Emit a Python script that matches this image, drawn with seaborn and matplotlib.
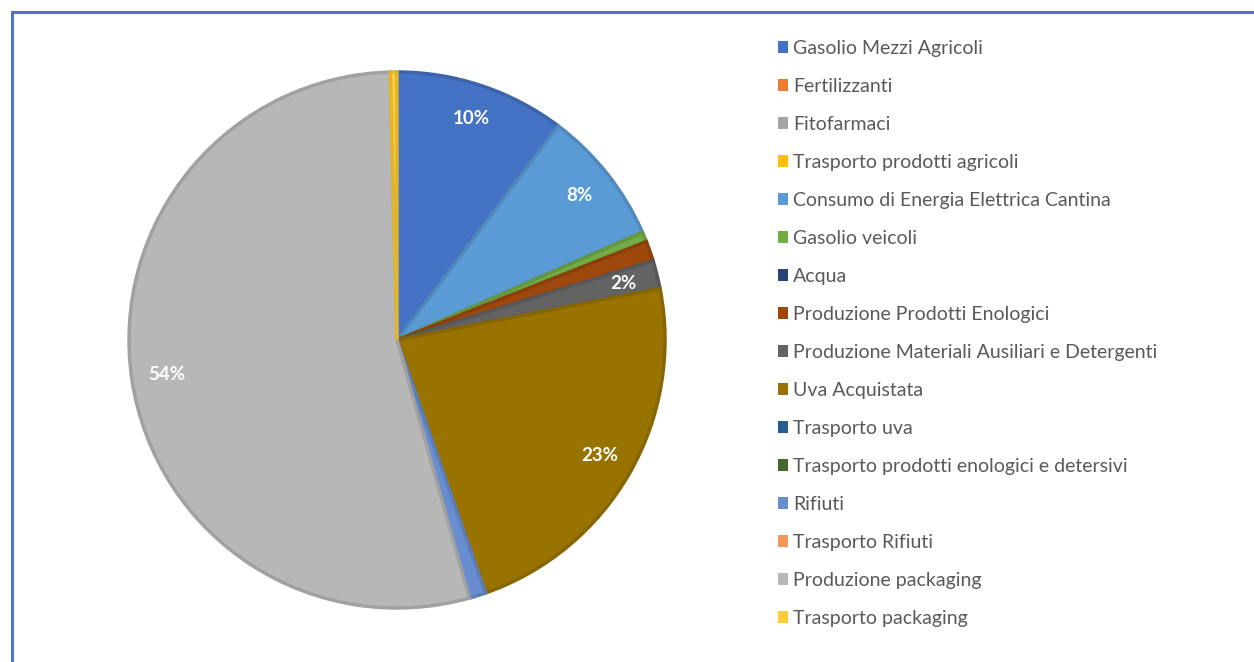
import numpy as np
import seaborn as sns
import matplotlib.pyplot as plt
import matplotlib.colors as mcolors
from matplotlib.patches import Patch, Rectangle

# Data: share of emissions by source (percent)
categories = [
    "Gasolio Mezzi Agricoli",
    "Fertilizzanti",
    "Fitofarmaci",
    "Trasporto prodotti agricoli",
    "Consumo di Energia Elettrica Cantina",
    "Gasolio veicoli",
    "Acqua",
    "Produzione Prodotti Enologici",
    "Produzione Materiali Ausiliari e Detergenti",
    "Uva Acquistata",
    "Trasporto uva",
    "Trasporto prodotti enologici e detersivi",
    "Rifiuti",
    "Trasporto Rifiuti",
    "Produzione packaging",
    "Trasporto packaging",
]
values = [10.25, 0.0, 0.0, 0.0, 8.15, 0.6, 0.0, 1.2, 1.7, 22.7, 0.0, 0.0, 1.0, 0.0, 53.9, 0.4]
colors = [
    "#4472C4", "#ED7D31", "#A5A5A5", "#FFC000", "#5B9BD5", "#70AD47",
    "#264478", "#9E480E", "#636363", "#997300", "#255E91", "#43682B",
    "#698ED0", "#F1975A", "#B7B7B7", "#FFCD33",
]

sns.set_theme(style="white")
plt.rcParams["font.family"] = ["Lato", "DejaVu Sans"]

fig = plt.figure(figsize=(12.54, 6.62), dpi=100)
fig.patch.set_facecolor("white")

# pie centre ~ (397, 340) px, radius ~ 268 px
W, H = 1254, 662
cx, cy, r = 397, 340, 268
ax = fig.add_axes([(cx - r) / W, (H - cy - r) / H, 2 * r / W, 2 * r / H])


def fmt(p):
    return f"{p:.0f}%" if p >= 1.5 else ""


wedges, texts, autotexts = ax.pie(
    values, colors=colors, startangle=90, counterclock=False,
    autopct=fmt, pctdistance=0.87,
    textprops=dict(color="white", fontsize=13.5, fontweight="bold"),
)
for w, v, c in zip(wedges, values, colors):
    dark = np.array(mcolors.to_rgb(c)) * 0.88
    w.set_edgecolor(dark)
    w.set_linewidth(2.5 if v > 0 else 0)
ax.set_xlim(-1.0, 1.0)
ax.set_ylim(-1.0, 1.0)
ax.set_aspect("equal")
ax.axis("off")

# legend
handles = [Patch(facecolor=c, edgecolor="none") for c in colors]
leg = fig.legend(
    handles, categories, loc="upper left",
    bbox_to_anchor=(770 / W, 1 - 32 / H), frameon=False,
    fontsize=14, handlelength=0.55, handleheight=0.55,
    handletextpad=0.25, labelspacing=1.08, borderaxespad=0,
)
for t in leg.get_texts():
    t.set_color("#595959")

# outer frame
fig.patches.append(Rectangle(
    (12 / W, -0.1), 2.0, 1.1 - 12 / H, transform=fig.transFigure,
    fill=False, edgecolor="#4F74C8", linewidth=2.2, zorder=10,
))

fig.savefig("out.png", dpi=100)
